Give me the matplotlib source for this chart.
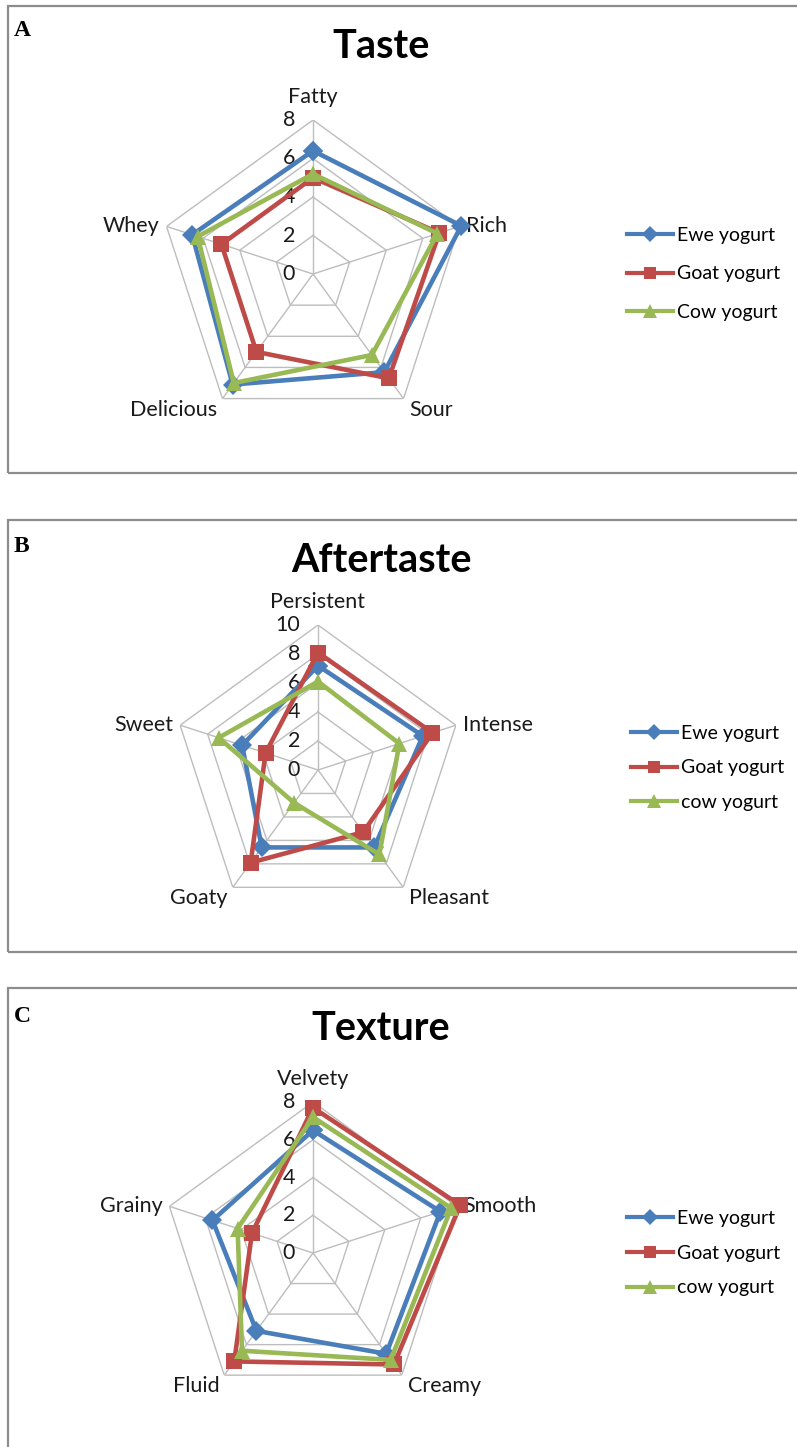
import numpy as np
import matplotlib.pyplot as plt
from matplotlib.lines import Line2D
from matplotlib.patches import Rectangle

plt.rcParams['font.family'] = ['Lato', 'DejaVu Sans']

# sensory scores, categories clockwise from the top
taste_cats = ["Fatty", "Rich", "Sour", "Delicious", "Whey"]
taste_ewe = [6.4, 8.1, 6.3, 7.1, 6.6]
taste_goat = [5.0, 6.9, 6.7, 5.0, 5.0]
taste_cow = [5.2, 6.8, 5.2, 7.0, 6.3]

after_cats = ["Persistent", "Intense", "Pleasant", "Goaty", "Sweet"]
after_ewe = [7.2, 7.6, 6.6, 6.6, 5.5]
after_goat = [8.1, 8.3, 5.3, 7.9, 3.8]
after_cow = [6.1, 5.9, 7.2, 2.8, 7.2]

text_cats = ["Velvety", "Smooth", "Creamy", "Fluid", "Grainy"]
text_ewe = [6.5, 7.1, 6.6, 5.1, 5.6]
text_goat = [7.7, 8.2, 7.3, 7.1, 3.4]
text_cow = [7.2, 7.7, 7.0, 6.4, 4.2]

W, H = 797, 1447
fig = plt.figure(figsize=(W / 100, H / 100), dpi=100)

blue = '#4A7EBB'
red = '#BE4B48'
green = '#98B954'
gridc = '#BDBDBD'
PX = 0.72  # points per pixel at dpi 100
FS = 15.5


def box(y0, y1):
    fig.add_artist(Rectangle((8 / W, 1 - y1 / H), 1.0, (y1 - y0) / H,
                             transform=fig.transFigure, fill=False,
                             edgecolor='#8C8C8C', lw=1.6, clip_on=False))


def radar(cx, cy, R, rmax, cats, series, names, title, letter, ytitle, yletter,
          legx, legy, legsp):
    ax = fig.add_axes([(cx - R) / W, 1 - (cy + R) / H, 2 * R / W, 2 * R / H],
                      projection='polar')
    ax.set_theta_offset(np.pi / 2)
    ax.set_theta_direction(-1)
    ax.set_ylim(0, rmax)
    ax.grid(False)
    ax.spines['polar'].set_visible(False)
    ax.set_xticks([])
    ax.set_yticks([])
    ax.patch.set_alpha(0)

    n = len(cats)
    ang = np.linspace(0, 2 * np.pi, n, endpoint=False)
    closed = np.append(ang, ang[0])

    # pentagon grid and spokes
    for r in range(2, rmax + 1, 2):
        ax.plot(closed, [r] * (n + 1), color=gridc, lw=1.0, zorder=1)
    for a in ang:
        ax.plot([a, a], [0, rmax], color=gridc, lw=1.0, zorder=1)

    for r in range(0, rmax + 1, 2):
        ax.annotate(str(r), xy=(0, r), xytext=(-18 * PX, 0), textcoords='offset points',
                    ha='right', va='center', fontsize=FS, color='#1a1a1a')

    # category labels around the outer ring
    offs = [((0, 23), 'center', 'center'),
            ((7, 0), 'left', 'center'),
            ((6, -1), 'left', 'top'),
            ((-5, -1), 'right', 'top'),
            ((-7, 0), 'right', 'center')]
    for a, c, (o, ha, va) in zip(ang, cats, offs):
        ax.annotate(c, xy=(a, rmax), xytext=(o[0] * PX, o[1] * PX),
                    textcoords='offset points', ha=ha, va=va, fontsize=FS,
                    color='#1a1a1a', annotation_clip=False)

    styles = [(blue, 'D', 10), (red, 's', 11), (green, '^', 12)]
    handles = []
    for vals, (col, mk, ms), nm in zip(series, styles, names):
        v = np.append(vals, vals[0])
        ax.plot(closed, v, color=col, lw=3.3, marker=mk, markersize=ms,
                markeredgewidth=0, clip_on=False, zorder=3, label=nm)
        handles.append(Line2D([], [], color=col, lw=3.0, marker=mk,
                              markersize=ms * 0.85, markeredgewidth=0))

    fig.legend(handles, names, loc='center left',
               bbox_to_anchor=(legx / W, 1 - legy / H), frameon=False,
               fontsize=14, handlelength=2.4, handletextpad=0.2,
               labelspacing=legsp, borderpad=0)

    fig.text(381 / W, 1 - ytitle / H, title, ha='center', va='center',
             fontsize=28.5, fontweight='bold', color='black')
    fig.text(14 / W, 1 - yletter / H, letter, ha='left', va='center',
             fontsize=17, fontweight='bold', family='Liberation Serif')


box(6, 473)
box(520, 952)
box(988, H + 20)

radar(313, 274, 154, 8, taste_cats, [taste_ewe, taste_goat, taste_cow],
      ["Ewe yogurt", "Goat yogurt", "Cow yogurt"], "Taste", "A", 46, 30,
      617, 274, 1.09)
radar(318, 770, 145, 10, after_cats, [after_ewe, after_goat, after_cow],
      ["Ewe yogurt", "Goat yogurt", "cow yogurt"], "Aftertaste", "B", 560, 546,
      621, 768, 0.9)
radar(313, 1253, 151, 8, text_cats, [text_ewe, text_goat, text_cow],
      ["Ewe yogurt", "Goat yogurt", "cow yogurt"], "Texture", "C", 1028, 1016,
      617, 1253, 0.92)

fig.savefig('out.png', dpi=100)
